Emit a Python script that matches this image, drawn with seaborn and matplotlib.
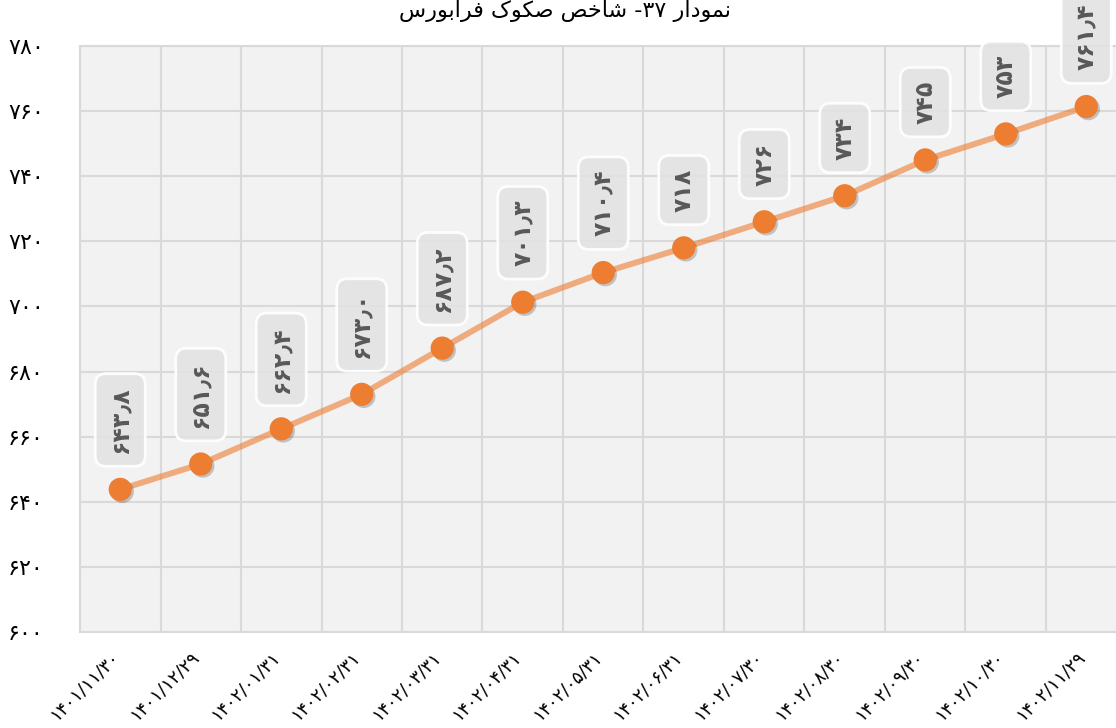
import matplotlib
matplotlib.use("Agg")
import matplotlib.pyplot as plt
import matplotlib.transforms as mtransforms
import matplotlib.patheffects as pe
from matplotlib.ticker import FixedLocator, MultipleLocator
import seaborn as sns
import pandas as pd

# Report dates (Persian calendar) and index values
dates = ["۱۴۰۱/۱۱/۳۰", "۱۴۰۱/۱۲/۲۹", "۱۴۰۲/۰۱/۳۱", "۱۴۰۲/۰۲/۳۱", "۱۴۰۲/۰۳/۳۱",
         "۱۴۰۲/۰۴/۳۱", "۱۴۰۲/۰۵/۳۱", "۱۴۰۲/۰۶/۳۱", "۱۴۰۲/۰۷/۳۰", "۱۴۰۲/۰۸/۳۰",
         "۱۴۰۲/۰۹/۳۰", "۱۴۰۲/۱۰/۳۰", "۱۴۰۲/۱۱/۲۹"]
values = [643.8, 651.6, 662.4, 673.0, 687.2, 701.3, 710.4, 718, 726, 734, 745, 753, 761.4]
decimals = [1, 1, 1, 1, 1, 1, 1, 0, 0, 0, 0, 0, 1]
y_ticks = [600, 620, 640, 660, 680, 700, 720, 740, 760, 780]

# Title in presentation forms, visual order
title = ("\uFEB1\uFEAD\uFEEE\uFE91\uFE8D\uFEAE\uFED3 "
         "\uFB8E\uFEEE\uFB91\uFEBB "
         "\uFEBA\uFEA7\uFE8E\uFEB7 "
         "-\u06F3\u06F7 "
         "\uFEAD\uFE8D\uFEA9\uFEEE\uFEE4\uFEE7")

PERSIAN = str.maketrans("0123456789.", "۰۱۲۳۴۵۶۷۸۹٫")


def fa_num(v, d):
    return (f"{v:.{d}f}").translate(PERSIAN)


sns.set_theme(style="white")
plt.rcParams["font.family"] = ["DejaVu Sans"]

df = pd.DataFrame({"pos": range(len(dates)), "value": values})

fig = plt.figure(figsize=(11.16, 7.28), dpi=100)
ax = fig.add_axes([80 / 1116, 96 / 728, 1046.5 / 1116, 586 / 728])
ax.set_facecolor("#f2f2f2")

grid_c = "#d9d9d9"
sns.lineplot(data=df, x="pos", y="value", ax=ax, color="#ed7d31", alpha=0.6,
             linewidth=4.3, zorder=3)
sns.scatterplot(data=df, x="pos", y="value", ax=ax, color="#ed7d31", s=280,
                edgecolor="none", zorder=4,
                path_effects=[pe.SimplePatchShadow(offset=(1.5, -1.5), alpha=0.2,
                                                   shadow_rgbFace="#000000"),
                              pe.Normal()])

ax.set_xlim(-0.5, len(dates) - 0.5)
ax.set_ylim(600, 780)
ax.yaxis.set_major_locator(FixedLocator(y_ticks))
ax.set_yticklabels([fa_num(t, 0) for t in y_ticks])
ax.set_xticks(range(len(dates)))
ax.set_xticklabels(dates)
ax.xaxis.set_minor_locator(MultipleLocator(1, offset=0.5))

ax.grid(True, which="major", axis="y", color=grid_c, linewidth=1.5, zorder=0)
ax.grid(True, which="minor", axis="x", color=grid_c, linewidth=1.5, zorder=0)
ax.set_axisbelow(True)
for s in ax.spines.values():
    s.set_color(grid_c)
    s.set_linewidth(1.5)

ax.tick_params(axis="both", which="both", length=0)
ax.tick_params(axis="y", pad=26, labelsize=16, labelcolor="black")
ax.tick_params(axis="x", pad=16, labelsize=13, labelcolor="black")
shift = mtransforms.ScaledTranslation(-4 / 100, 0, fig.dpi_scale_trans)
for lab in ax.get_xticklabels():
    lab.set_rotation(45)
    lab.set_ha("right")
    lab.set_va("center")
    lab.set_rotation_mode("anchor")
    lab.set_transform(lab.get_transform() + shift)

ax.set_xlabel("")
ax.set_ylabel("")

# Rotated value labels in rounded boxes above each point
for i, (v, d) in enumerate(zip(values, decimals)):
    ax.annotate(fa_num(v, d), xy=(i, v), xytext=(0, 26), textcoords="offset points",
                rotation=90, ha="center", va="bottom", fontsize=17,
                fontweight="bold", color="#585858", zorder=5,
                bbox=dict(boxstyle="round,pad=0.55,rounding_size=0.45",
                          facecolor="#e3e3e3", edgecolor="white", linewidth=2,
                          alpha=0.9))

fig.text(565 / 1116, 1 - 11 / 728, title, ha="center", va="center", fontsize=16,
         color="black")

fig.savefig("out.png", dpi=100)
